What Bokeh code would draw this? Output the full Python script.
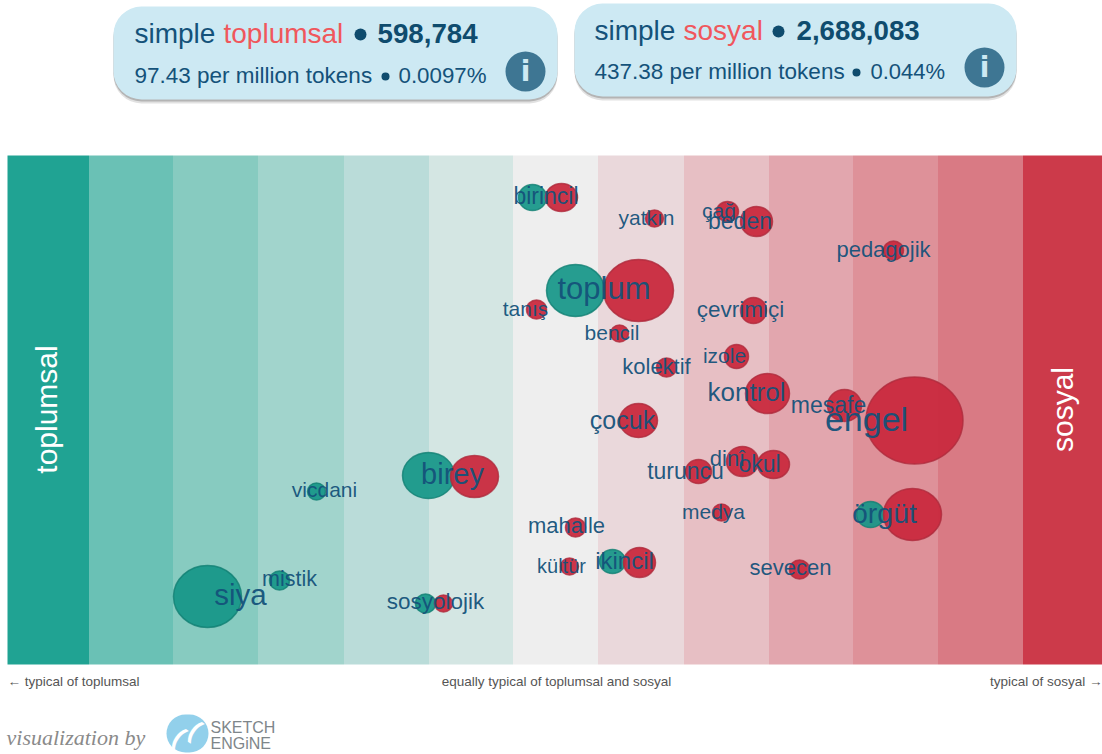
from bokeh.plotting import figure
from bokeh.models import Range1d, Label, BoxAnnotation, ColumnDataSource
from bokeh.core.properties import value
from bokeh.embed import file_html
from bokeh.resources import INLINE

# typicality scale (centre = equally typical), vertical scale 0..509
band_edges = [-548, -466.5, -382.5, -297.5, -211.5, -126.5, -42.5, 42.5, 128.5, 213.5, 297.5, 382.5, 467.5, 547]
band_colors = ["#20A393", "#6AC1B5", "#87CBC0", "#A1D4CC", "#BADCD9", "#D4E6E3", "#EEEEEE",
               "#EAD8DB", "#E7BFC4", "#E2A6AE", "#DE9199", "#D97A84", "#CC3A4A"]

teal_words = ["birincil", "toplum", "birey", "vicdani", "örgüt", "ikincil", "mistik", "siya", "sosyolojik"]
teal_x = [-23, 20, -127, -239, 315, 57, -276, -348, -130]
teal_y = [467, 374, 189, 173, 150, 103, 84, 68, 61]
teal_w = [28, 58, 52, 18, 28, 26, 20, 68, 20]
teal_h = [26, 52, 46, 17, 26, 24, 19, 62, 19]

red_words = ["birincil", "yatkın", "çağ", "beden", "pedagojik", "toplum", "tanış", "bencil", "çevrimiçi",
             "izole", "kolektif", "kontrol", "mesafe", "engel", "çocuk", "dinî", "okul", "turuncu", "birey",
             "örgüt", "medya", "mahalle", "ikincil", "kültür", "sevecen", "sosyolojik"]
red_x = [6, 99, 172, 201, 338, 83, -19, 64, 198, 181, 111, 212, 289, 359, 83, 187, 218, 143, -81, 357, 166, 20, 84, 14, 244, -112]
red_y = [467, 446, 453, 443, 414, 374, 355, 331, 354, 308, 297, 271, 259, 244, 244, 203, 200, 193, 188, 150, 152, 137, 102, 98, 95, 61]
red_w = [32, 18, 22, 32, 20, 70, 20, 18, 26, 24, 20, 44, 34, 97, 38, 32, 32, 26, 48, 58, 18, 20, 32, 18, 20, 18]
red_h = [28, 17, 20, 30, 19, 62, 19, 17, 26, 24, 19, 40, 32, 87, 34, 30, 28, 24, 42, 52, 17, 19, 30, 17, 19, 17]

label_words = ["birincil", "yatkın", "çağ", "beden", "pedagojik", "toplum", "tanış", "bencil", "çevrimiçi",
               "izole", "kolektif", "kontrol", "mesafe", "engel", "çocuk", "dinî", "okul", "turuncu", "birey",
               "vicdani", "örgüt", "medya", "mahalle", "ikincil", "kültür", "sevecen", "mistik", "siya", "sosyolojik"]
label_x = [-9.5, 91, 163.5, 184.5, 328, 48.5, -30, 56.5, 185, 169, 101, 191, 273, 311, 67, 172, 204, 130, -103,
           -231, 329, 158, 11, 69, 6, 235, -266, -315, -120]
label_y = [469, 447, 454, 444, 415, 376, 356, 332, 355, 309, 298, 273, 260, 246, 245, 206, 201, 194, 191,
           175, 152, 153, 139, 104, 99, 97, 86, 70, 63]
label_size = [23, 21, 21, 23, 22, 31, 21, 21, 22.5, 21, 22, 26, 23, 34, 25, 22, 23, 23, 29, 21, 28.5, 21, 22, 24, 20, 22, 21.5, 29.5, 22.5]

INK = "#14527A"

p = figure(width=1102, height=754, x_axis_type=None, y_axis_type=None, toolbar_location=None,
           output_backend="svg", x_range=Range1d(-555, 547), y_range=Range1d(-90, 664),
           min_border_left=0, min_border_right=0, min_border_top=0, min_border_bottom=0,
           outline_line_color=None, border_fill_color="white", background_fill_color="white")
p.grid.visible = False
p.styles = {"position": "absolute", "left": "0px", "top": "0px"}

# bands
p.quad(left=band_edges[:-1], right=band_edges[1:], bottom=0, top=509, fill_color=band_colors, line_color=None)

# bubbles
p.ellipse(x=teal_x, y=teal_y, width=teal_w, height=teal_h, width_units="screen", height_units="screen",
          fill_color="#159688", fill_alpha=0.92, line_color="#128073", line_width=1.5, line_alpha=0.8)
p.ellipse(x=red_x, y=red_y, width=red_w, height=red_h, width_units="screen", height_units="screen",
          fill_color="#C92A3E", fill_alpha=0.95, line_color="#AE2A3C", line_width=1.5, line_alpha=0.8)

# word labels
src = ColumnDataSource(dict(x=label_x, y=label_y, t=label_words, fs=[f"{s}px" for s in label_size]))
p.text(x="x", y="y", text="t", source=src, text_font=value("Liberation Sans"), text_font_size="fs",
       text_color=INK, text_align="center", text_baseline="middle", text_alpha=0.95)

# screen helpers: the frame fills the canvas
def sy(y):
    return 754 - y

def lab(x, y, text, size, color, **kw):
    p.add_layout(Label(x=x, y=sy(y), x_units="screen", y_units="screen", text=text,
                       text_font=kw.pop("font", "Liberation Sans"), text_font_size=f"{size}px", text_color=color,
                       text_baseline="middle", **kw))

def box(x0, x1, y0, y1, color, alpha=1, radius=0):
    p.add_layout(BoxAnnotation(left=x0, right=x1, top=sy(y0), bottom=sy(y1),
                               left_units="screen", right_units="screen", top_units="screen", bottom_units="screen",
                               fill_color=color, fill_alpha=alpha, line_color=None, border_radius=radius))

lab(46, 409, "toplumsal", 30, "white", text_align="center", angle=90, angle_units="deg")
lab(1062, 409, "sosyal", 30, "white", text_align="center", angle=90, angle_units="deg")

# axis captions
lab(7, 681, "← typical of toplumsal", 13.5, "#555555")
lab(556, 681, "equally typical of toplumsal and sosyal", 13.5, "#555555", text_align="center")
lab(1102, 681, "typical of sosyal →", 13.5, "#555555", text_align="right")

# cards
def card(x0, x1, y0, y1):
    box(x0, x1, y0 + 4, y1 + 4, "#888888", 0.25, 28)
    box(x0, x1, y0 + 2, y1 + 2, "#888888", 0.5, 28)
    box(x0, x1, y0, y1, "#CDE9F3", 1, 28)

card(113, 557, 6, 99)
card(574, 1016, 3, 96)

def dot(cx, cy, r, color):
    box(cx - r, cx + r, cy - r, cy + r, color, 1, r)

RED = "#F0575C"
NAVY = "#0F4C6E"
lab(134, 33, "simple", 28, INK)
lab(223, 33, "toplumsal", 28, RED)
dot(360, 34, 6, NAVY)
lab(377, 33, "598,784", 27.7, NAVY, text_font_style="bold")
lab(134, 75, "97.43 per million tokens", 22.5, INK)
dot(385, 76, 4, NAVY)
lab(398, 75, "0.0097%", 22.3, INK)
dot(525, 71, 20, "#3E7693")
lab(525, 71, "i", 28, "#CDE9F3", text_align="center", text_font_style="bold", font="DejaVu Sans")

lab(594, 30, "simple", 28, INK)
lab(683, 30, "sosyal", 28, RED)
dot(778, 31, 6, NAVY)
lab(796, 30, "2,688,083", 27.7, NAVY, text_font_style="bold")
lab(594, 71, "437.38 per million tokens", 22.5, INK)
dot(856, 72, 4, NAVY)
lab(870, 71, "0.044%", 22, INK)
dot(984, 67, 20, "#3E7693")
lab(984, 67, "i", 28, "#CDE9F3", text_align="center", text_font_style="bold", font="DejaVu Sans")

# footer
lab(6, 737, "visualization by", 22, "#8A8A8A", font="Liberation Serif", text_font_style="italic")
box(166, 208, 714, 752, "#92D0EB", 1, 19)
lab(179, 736, "(", 26, "white", text_align="center", text_font_style="bold", angle=-35, angle_units="deg")
lab(195, 729, "(", 26, "white", text_align="center", text_font_style="bold", angle=-35, angle_units="deg")
lab(210, 727, "SKETCH", 16, "#7E868A")
lab(210, 743, "ENGiNE", 16, "#7E868A")

open("out.html", "w").write(file_html(p, INLINE))
